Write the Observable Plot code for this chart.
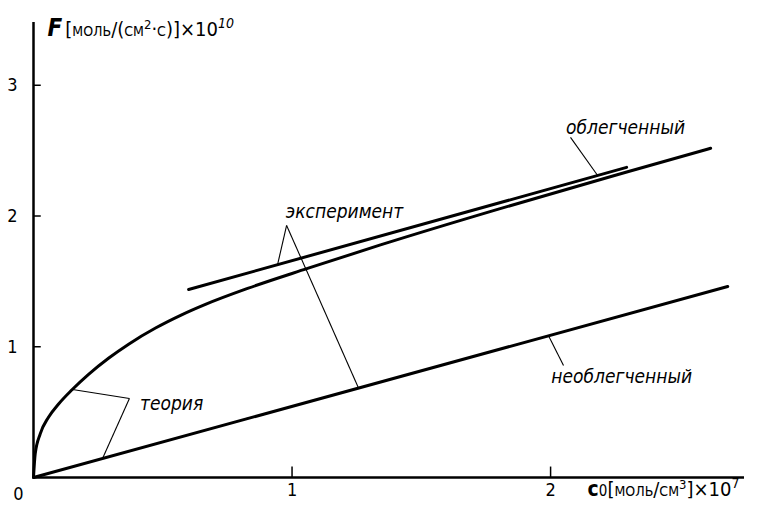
<!DOCTYPE html>
<html><head><meta charset="utf-8">
<script src="https://cdn.jsdelivr.net/npm/d3@7"></script>
<script src="https://cdn.jsdelivr.net/npm/@observablehq/plot@0.6"></script>
<style>
body{margin:0;background:#fff;}
svg{font-family:"DejaVu Sans Condensed","DejaVu Sans",sans-serif;}
</style>
</head><body>
<div id="chart"></div>
<script>
// theory curve (facilitated transport)
const theoryX = [0, 0.0066, 0.026, 0.058, 0.097, 0.148, 0.213, 0.29, 0.368, 0.472, 0.573, 0.665, 0.828, 1.06, 1.342, 1.795, 2.298, 2.619];
const theoryY = [0, 0.181, 0.334, 0.461, 0.562, 0.669, 0.789, 0.912, 1.02, 1.143, 1.244, 1.324, 1.446, 1.599, 1.779, 2.051, 2.338, 2.518];
// experiment, facilitated (straight line)
const expX = [0.6, 2.294];
const expY = [1.438, 2.372];
// non-facilitated (theory = experiment)
const plainX = [0, 2.685];
const plainY = [0, 1.461];
// tick values
const xTicks = [1, 2];
const yTicks = [1, 2, 3];
// annotation labels
const labelText = ["эксперимент", "теория", "облегченный", "необлегченный"];
const labelX = [1.203, 0.534, 2.29, 2.275];
const labelY = [2.035, 0.566, 2.67, 0.773];
// leader lines
const leadX1 = [0.979, 0.979, 0.371, 0.371, 2.077, 2.05];
const leadY1 = [1.928, 1.928, 0.604, 0.604, 2.601, 0.857];
const leadX2 = [0.944, 1.257, 0.151, 0.267, 2.182, 1.992];
const leadY2 = [1.628, 0.684, 0.673, 0.145, 2.31, 1.084];

const theory = theoryX.map((x, i) => ({x, y: theoryY[i]}));
const exp = expX.map((x, i) => ({x, y: expY[i]}));
const plain = plainX.map((x, i) => ({x, y: plainY[i]}));
const labels = labelText.map((t, i) => ({t, x: labelX[i], y: labelY[i]}));
const leaders = leadX1.map((x1, i) => ({x1, y1: leadY1[i], x2: leadX2[i], y2: leadY2[i]}));

const chart = Plot.plot({
  width: 757, height: 507,
  marginLeft: 33, marginRight: 13, marginTop: 22, marginBottom: 30,
  x: {domain: [0, 2.75]},
  y: {domain: [0, 3.48]},
  style: {fontFamily: "'DejaVu Sans Condensed','DejaVu Sans',sans-serif", color: "#000", background: "#fff"},
  marks: [
    Plot.ruleX([0], {strokeWidth: 2.5, stroke: "#000"}),
    Plot.ruleY([0], {strokeWidth: 2.5, stroke: "#000"}),
    Plot.ruleY(yTicks, {x1: 0, x2: 0.03, strokeWidth: 1.5}),
    Plot.ruleX(xTicks, {y1: 0, y2: 0.08, strokeWidth: 1.5}),
    Plot.axisY({ticks: yTicks, tickSize: 0, tickPadding: 16, label: null, fontSize: 18, tickFormat: d => String(d)}),
    Plot.axisX({ticks: xTicks, tickSize: 0, tickPadding: 6, label: null, fontSize: 18, tickFormat: d => String(d)}),
    Plot.text([0], {x: 0, y: 0, text: () => "0", dx: -15, dy: 17, fontSize: 18}),
    Plot.line(theory, {x: "x", y: "y", curve: "monotone-x", strokeWidth: 3, stroke: "#000"}),
    Plot.line(exp, {x: "x", y: "y", strokeWidth: 3, stroke: "#000"}),
    Plot.line(plain, {x: "x", y: "y", strokeWidth: 3, stroke: "#000"}),
    Plot.link(leaders, {x1: "x1", y1: "y1", x2: "x2", y2: "y2", strokeWidth: 1.1, stroke: "#000"}),
    Plot.text(labels, {x: "x", y: "y", text: "t", fontSize: 19, fontStyle: "italic"}),
    Plot.text(["F[моль/(см2·с)]×1010"], {frameAnchor: "top-left", lineAnchor: "middle", dx: 14, dy: 7, textAnchor: "start", fontSize: 20, className: "ylab"}),
    Plot.text(["c0[моль/см3]×107"], {x: 2, y: 0, dx: 37, dy: 12, textAnchor: "start", fontSize: 20, className: "xlab"})
  ]
});
// rich formatting of the axis titles (super/subscripts)
d3.select(chart).select(".ylab text").html(
  '<tspan font-size="24" font-weight="bold" font-style="italic">F</tspan>' +
  '<tspan dx="3" style="font-variant:small-caps">[моль/(см</tspan><tspan font-size="13" dy="-7">2</tspan>' +
  '<tspan dy="7" style="font-variant:small-caps">·с)]</tspan><tspan>×10</tspan>' +
  '<tspan font-size="14" dy="-8" font-style="italic">10</tspan>');
d3.select(chart).select(".xlab text").html(
  '<tspan font-size="21" font-weight="bold">c</tspan><tspan font-size="15">0</tspan>' +
  '<tspan style="font-variant:small-caps">[моль/см</tspan><tspan font-size="13" dy="-7">3</tspan>' +
  '<tspan dy="7">]×10</tspan><tspan font-size="14" dy="-8">7</tspan>');
document.getElementById("chart").appendChild(chart);
</script>
</body></html>
